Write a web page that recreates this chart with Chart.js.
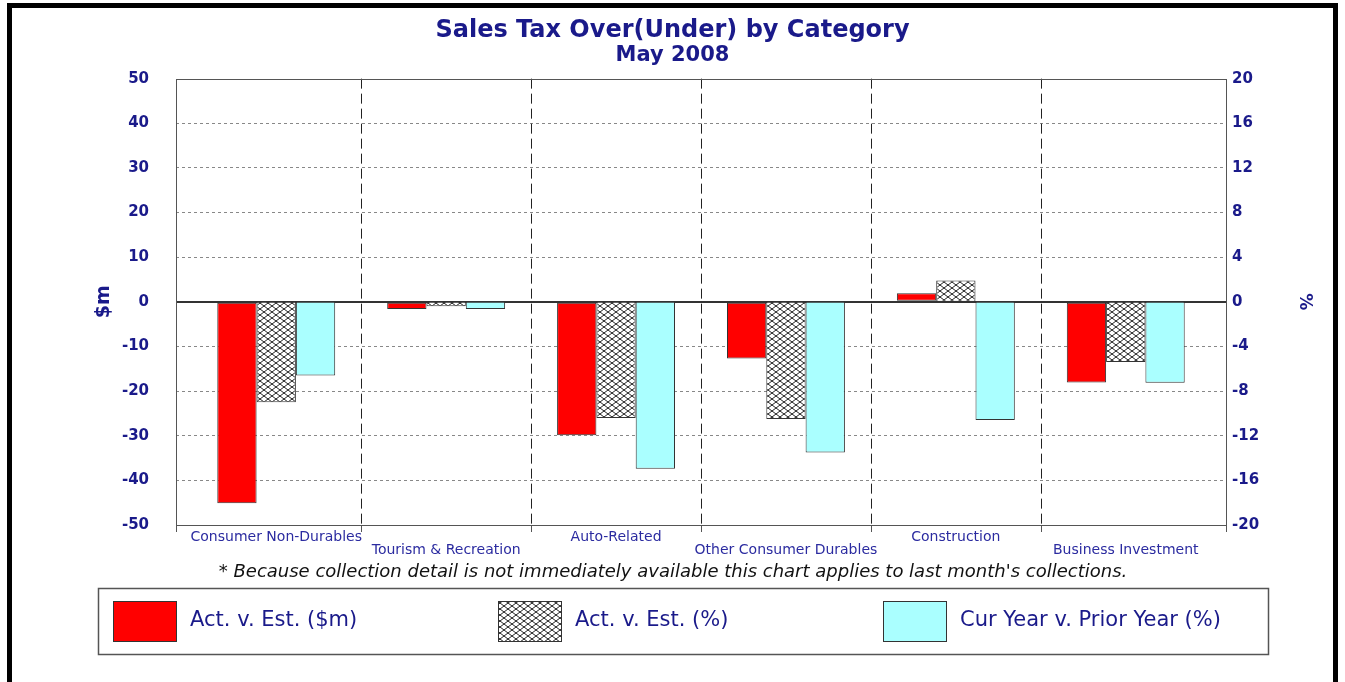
<!DOCTYPE html>
<html>
<head>
<meta charset="utf-8">
<script src="https://cdn.jsdelivr.net/npm/chart.js@4/dist/chart.umd.min.js"></script>
<style>
  html, body { margin: 0; padding: 0; background: #fff; }
  #wrap { width: 1345px; height: 682px; }
</style>
</head>
<body>
<div id="wrap"><canvas id="salesTax" width="1345" height="682"></canvas></div>
<script>
// Sales Tax Over(Under) by Category, May 2008.
// Red bars use the left $m axis; hatched and cyan bars use the right % axis.

const categories = [
    'Consumer Non-Durables',
    'Tourism & Recreation',
    'Auto-Related',
    'Other Consumer Durables',
    'Construction',
    'Business Investment'
];

const actVsEstDollars = [-45.1, -1.6, -29.9, -12.7, 1.9, -18.1];
const actVsEstPct     = [-9.0, -0.4, -10.4, -10.5, 1.9, -5.4];
const curVsPriorPct   = [-6.6, -0.65, -14.95, -13.5, -10.6, -7.25];

const leftTicks  = [-50, -40, -30, -20, -10, 0, 10, 20, 30, 40, 50];
const rightTicks = [-20, -16, -12, -8, -4, 0, 4, 8, 12, 16, 20];

const NAVY = '#1a1a8a';
const FONT = '"DejaVu Sans", Verdana, sans-serif';

// diamond cross-hatch used for the "Act. v. Est. (%)" series
function makeHatch() {
    const c = document.createElement('canvas');
    c.width = 8; c.height = 6;
    const g = c.getContext('2d');
    g.fillStyle = '#fff';
    g.fillRect(0, 0, 8, 6);
    g.strokeStyle = '#222';
    g.lineWidth = 1;
    g.beginPath();
    g.moveTo(0, 0); g.lineTo(8, 6);
    g.moveTo(0, 6); g.lineTo(8, 0);
    g.stroke();
    return g.createPattern(c, 'repeat');
}
const hatch = makeHatch();

const toPoints = arr => arr.map((v, i) => ({ x: i, y: v }));

const datasets = [
    { label: 'Act. v. Est. ($m)', data: toPoints(actVsEstDollars), yAxisID: 'y',
      backgroundColor: '#ff0000' },
    { label: 'Act. v. Est. (%)', data: toPoints(actVsEstPct), yAxisID: 'y1',
      backgroundColor: hatch },
    { label: 'Cur Year v. Prior Year (%)', data: toPoints(curVsPriorPct), yAxisID: 'y1',
      backgroundColor: '#aaffff' }
].map(d => Object.assign(d, {
    borderColor: '#333',
    borderWidth: 1,
    borderSkipped: false,
    categoryPercentage: 0.694,
    barPercentage: 1.0
}));

// frame, plot box, category dividers, footnote and the boxed legend
const decorations = {
    id: 'decorations',
    beforeDatasetsDraw(chart) {
        const { ctx, chartArea: a, scales: { x } } = chart;
        ctx.save();
        ctx.strokeStyle = '#222';
        ctx.lineWidth = 1;
        ctx.setLineDash([10, 5]);
        for (let i = 0; i < categories.length - 1; i++) {
            const px = Math.round(x.getPixelForValue(i + 0.5)) + 0.5;
            ctx.beginPath();
            ctx.moveTo(px, a.top);
            ctx.lineTo(px, a.bottom);
            ctx.stroke();
        }
        ctx.restore();
    },
    afterDraw(chart) {
        const { ctx, chartArea: a, scales: { x } } = chart;
        ctx.save();

        // plot border
        ctx.strokeStyle = '#555';
        ctx.lineWidth = 1;
        ctx.strokeRect(Math.round(a.left) + 0.5, Math.round(a.top) + 0.5,
                       Math.round(a.right - a.left), Math.round(a.bottom - a.top));

        // tick marks at category edges
        const edges = [a.left, a.right];
        for (let i = 0; i < categories.length - 1; i++) edges.push(x.getPixelForValue(i + 0.5));
        ctx.beginPath();
        edges.forEach(e => {
            const px = Math.round(e) + 0.5;
            ctx.moveTo(px, a.bottom);
            ctx.lineTo(px, a.bottom + 7);
        });
        ctx.stroke();

        // outer frame
        ctx.strokeStyle = '#000';
        ctx.lineWidth = 5;
        ctx.strokeRect(9.5, 5.5, 1326, 700);

        // footnote
        ctx.fillStyle = '#111';
        ctx.font = 'oblique 18px ' + FONT;
        ctx.textAlign = 'center';
        ctx.textBaseline = 'middle';
        ctx.fillText("* Because collection detail is not immediately available this chart applies to last month's collections.", 673, 572);

        // legend box
        ctx.strokeStyle = '#555';
        ctx.lineWidth = 1.5;
        ctx.strokeRect(98.5, 588.5, 1170, 66);
        ctx.font = '21px ' + FONT;
        ctx.textAlign = 'left';
        chart.data.datasets.forEach((d, i) => {
            const sx = 113 + i * 385;
            ctx.fillStyle = d.backgroundColor;
            ctx.fillRect(sx, 601, 63, 40);
            ctx.strokeStyle = '#333';
            ctx.lineWidth = 1;
            ctx.strokeRect(sx + 0.5, 601.5, 63, 40);
            ctx.fillStyle = NAVY;
            ctx.fillText(d.label, sx + 77, 621);
        });
        ctx.restore();
    }
};

const isEdge = c => c.tick && (c.tick.value === 50 || c.tick.value === -50);
const isZero = c => c.tick && c.tick.value === 0;

new Chart(document.getElementById('salesTax'), {
    type: 'bar',
    data: { datasets },
    plugins: [decorations],
    options: {
        responsive: false,
        animation: false,
        layout: { padding: { top: 0, left: 0, right: 0, bottom: 122 } },
        plugins: {
            legend: { display: false },
            tooltip: { enabled: false },
            title: {
                display: true,
                text: 'Sales Tax Over(Under) by Category',
                color: NAVY,
                font: { family: FONT, size: 24, weight: 'bold', lineHeight: 1.15 },
                padding: { top: 17, bottom: 0 }
            },
            subtitle: {
                display: true,
                text: 'May 2008',
                color: NAVY,
                font: { family: FONT, size: 21, weight: 'bold', lineHeight: 1.05 },
                padding: { top: 0, bottom: 12 }
            }
        },
        scales: {
            x: {
                type: 'linear',
                min: -0.59,
                max: 5.59,
                offset: false,
                grid: { display: false, drawTicks: false },
                border: { display: false },
                afterBuildTicks: s => { s.ticks = categories.map((c, i) => ({ value: i })); },
                afterFit: s => { s.height = 35; },
                ticks: {
                    autoSkip: false,
                    maxRotation: 0,
                    padding: 6,
                    color: '#2b2ba0',
                    font: { family: FONT, size: 14, lineHeight: 0.93 },
                    callback: v => (v % 2 === 0 ? categories[v] : ['', categories[v]])
                }
            },
            y: {
                position: 'left',
                min: -50,
                max: 50,
                afterBuildTicks: s => { s.ticks = leftTicks.map(v => ({ value: v })); },
                afterFit: s => { s.width = 176; },
                grid: {
                    drawTicks: false,
                    color: c => (isEdge(c) ? 'rgba(0,0,0,0)' : isZero(c) ? '#333' : '#888'),
                    lineWidth: c => (isZero(c) ? 2 : 1)
                },
                border: {
                    display: false,
                    dash: c => (isZero(c) ? [] : [3, 3])
                },
                ticks: {
                    padding: 27,
                    color: NAVY,
                    font: { family: FONT, size: 15, weight: 'bold' }
                },
                title: {
                    display: true,
                    text: '$m',
                    color: NAVY,
                    font: { family: FONT, size: 19, weight: 'bold', lineHeight: 1.2 },
                    padding: { top: 93, bottom: 0 }
                }
            },
            y1: {
                position: 'right',
                min: -20,
                max: 20,
                afterBuildTicks: s => { s.ticks = rightTicks.map(v => ({ value: v })); },
                afterFit: s => { s.width = 119; },
                grid: { display: false, drawTicks: false },
                border: { display: false },
                ticks: {
                    padding: 6,
                    color: NAVY,
                    font: { family: FONT, size: 15, weight: 'bold' }
                },
                title: {
                    display: true,
                    text: '%',
                    color: NAVY,
                    font: { family: FONT, size: 17, weight: 'bold', lineHeight: 1.2 },
                    padding: { top: 30, bottom: 0 }
                }
            }
        }
    }
});
</script>
</body>
</html>
